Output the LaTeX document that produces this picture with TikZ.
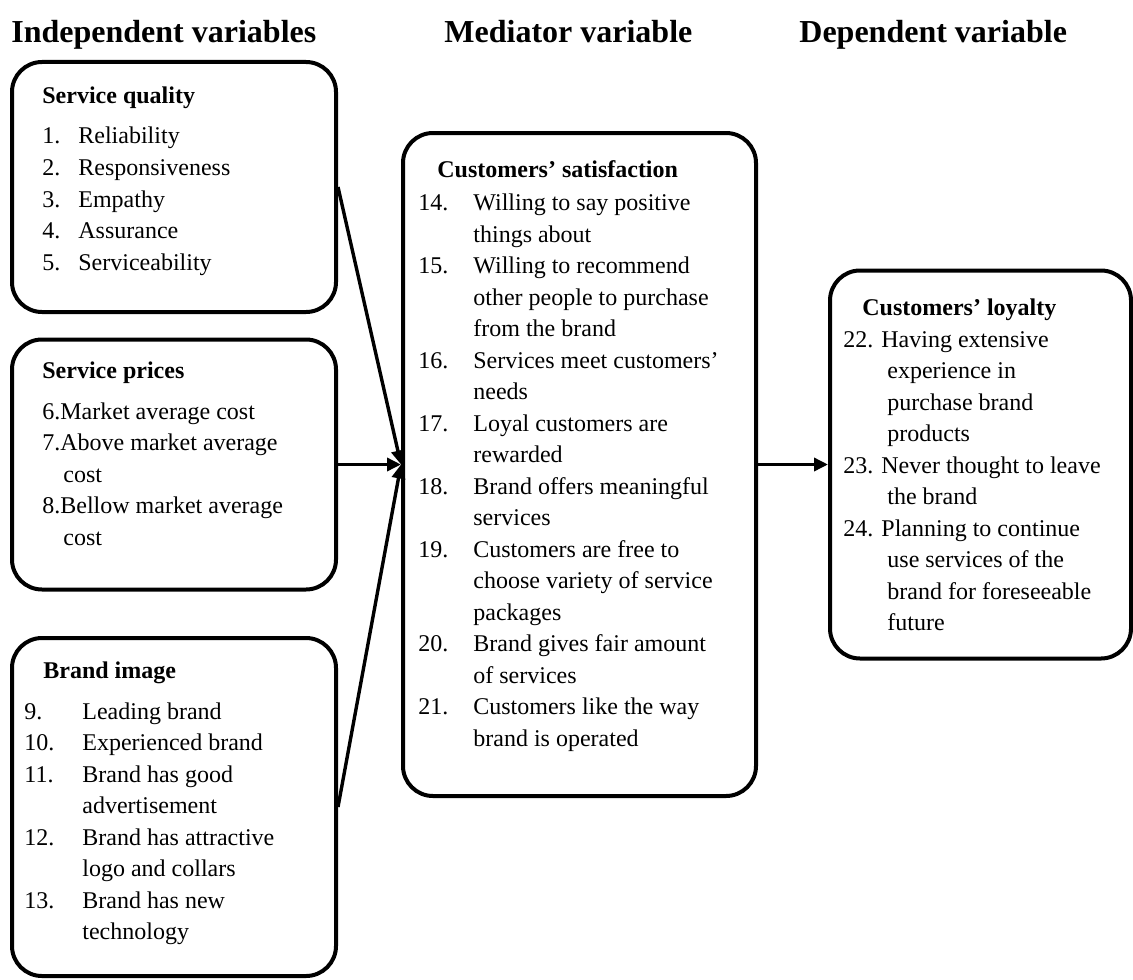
\documentclass[tikz,border=0pt]{standalone}
\usepackage{fontspec}
\setmainfont{Liberation Serif}
\usetikzlibrary{arrows.meta,positioning}
\tikzset{varbox/.style={rectangle, draw, line width=2pt, rounded corners=15pt, inner sep=0pt, minimum width=162pt}}
\tikzset{head/.style={anchor=base west, inner sep=0pt, font=\fontsize{16pt}{19pt}\selectfont\bfseries}}
\tikzset{items/.style={anchor=base west, inner sep=0pt, font=\fontsize{12pt}{15.75pt}\selectfont}}
\tikzset{line/.style={draw, line width=1.7pt, -{Triangle[length=7pt,width=6.5pt]}}}
\newcommand{\itemno}[2][18pt]{\makebox[#1][l]{#2}}

\begin{document}
\begin{tikzpicture}[x=0.5pt, y=-0.5pt]
        \useasboundingbox (0,0) rectangle (1133,979);

        \node[head] (indep)  at (11,43)  {Independent variables};
        \node[head] (medh)   at (444,43) {Mediator variable};
        \node[head] (deph)   at (799,43) {Dependent variable};

        \node[varbox, minimum height=125pt] (qual)   at (174,187) {};
        \node[varbox, minimum height=125pt] (prices) at (174,464.5) {};
        \node[varbox, minimum height=169pt] (image)  at (174,807) {};
        \node[varbox, minimum width=176.5pt, minimum height=331.5pt] (satis) at (579.5,464.5) {};
        \node[varbox, minimum width=150.5pt, minimum height=194pt]   (loyal) at (980.5,464.5) {};

        \node[items] (qualtext) at (42,103.5) {\begin{tabular}[t]{@{}l@{}}
          \textbf{Service quality}\\[4.5pt]
          \itemno{1.}Reliability\\
          \itemno{2.}Responsiveness\\
          \itemno{3.}Empathy\\
          \itemno{4.}Assurance\\
          \itemno{5.}Serviceability
        \end{tabular}};
        \node[items] (pricestext) at (42,378.5) {\begin{tabular}[t]{@{}l@{}}
          \textbf{Service prices}\\[4.5pt]
          6.Market average cost\\
          7.Above market average\\
          \hspace{10.5pt}cost\\
          8.Bellow market average\\
          \hspace{10.5pt}cost
        \end{tabular}};
        \node[items] (imagetext) at (24,678.5) {\begin{tabular}[t]{@{}l@{}}
          \hspace{9.5pt}\textbf{Brand image}\\[4.5pt]
          \itemno[29pt]{9.}Leading brand\\
          \itemno[29pt]{10.}Experienced brand\\
          \itemno[29pt]{11.}Brand has good\\
          \hspace{29pt}advertisement\\
          \itemno[29pt]{12.}Brand has attractive\\
          \hspace{29pt}logo and collars\\
          \itemno[29pt]{13.}Brand has new\\
          \hspace{29pt}technology
        \end{tabular}};
        \node[items] (satistext) at (418,177.5) {\begin{tabular}[t]{@{}l@{}}
          \hspace{9.5pt}\textbf{Customers’ satisfaction}\\[0.75pt]
          \itemno[27.5pt]{14.}Willing to say positive\\
          \hspace{27.5pt}things about\\
          \itemno[27.5pt]{15.}Willing to recommend\\
          \hspace{27.5pt}other people to purchase\\
          \hspace{27.5pt}from the brand\\
          \itemno[27.5pt]{16.}Services meet customers’\\
          \hspace{27.5pt}needs\\
          \itemno[27.5pt]{17.}Loyal customers are\\
          \hspace{27.5pt}rewarded\\
          \itemno[27.5pt]{18.}Brand offers meaningful\\
          \hspace{27.5pt}services\\
          \itemno[27.5pt]{19.}Customers are free to\\
          \hspace{27.5pt}choose variety of service\\
          \hspace{27.5pt}packages\\
          \itemno[27.5pt]{20.}Brand gives fair amount\\
          \hspace{27.5pt}of services\\
          \itemno[27.5pt]{21.}Customers like the way\\
          \hspace{27.5pt}brand is operated
        \end{tabular}};
        \node[items] (loyaltext) at (843,315.5) {\begin{tabular}[t]{@{}l@{}}
          \hspace{9.5pt}\textbf{Customers’ loyalty}\\
          22. Having extensive\\
          \hspace{22pt}experience in\\
          \hspace{22pt}purchase brand\\
          \hspace{22pt}products\\
          23. Never thought to leave\\
          \hspace{22pt}the brand\\
          24. Planning to continue\\
          \hspace{22pt}use services of the\\
          \hspace{22pt}brand for foreseeable\\
          \hspace{22pt}future
        \end{tabular}};

        \path[line] (qual.east)   -- (satis.west);
        \path[line] (prices.east) -- (satis.west);
        \path[line] (image.east)  -- (satis.west);
        \path[line] (satis.east)  -- (loyal.west);

\end{tikzpicture}
\end{document}
